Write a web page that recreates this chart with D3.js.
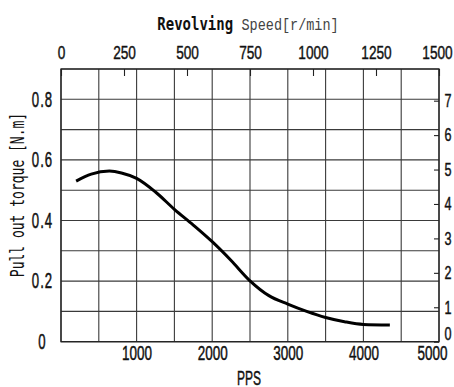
<!DOCTYPE html>
<html>
<head>
<meta charset="utf-8">
<script src="https://cdn.jsdelivr.net/npm/d3@7"></script>
<style>
  body { margin: 0; background: #fff; }
  svg { display: block; }
  .num { font-family: "Liberation Sans", Arial, sans-serif; fill: #111; stroke: #111; stroke-width: 0.35px; }
  .stretch { transform-box: fill-box; transform-origin: center; }
  .mono { font-family: "DejaVu Sans Mono", monospace; fill: #111; }
  .serif { font-family: "Liberation Mono", "Courier New", monospace; fill: #444; }
</style>
</head>
<body>
<div id="content"></div>
<script>
// pull out torque curve
var pps =    [200, 400, 640, 800, 1000, 1250, 1500, 1750, 2000, 2250, 2500, 2750, 3000, 3250, 3500, 3750, 4000, 4350];
var torque = [0.530, 0.553, 0.563, 0.557, 0.539, 0.494, 0.437, 0.385, 0.330, 0.268, 0.201, 0.152, 0.124, 0.100, 0.080, 0.066, 0.057, 0.055];

var bottomTicks = [1000, 2000, 3000, 4000, 5000];
var topTicks = [0, 250, 500, 750, 1000, 1250, 1500];
var leftTicks = [0.8, 0.6, 0.4, 0.2, 0];
var leftLabels = ["0.8", "0.6", "0.4", "0.2", "0"];
var rightTicks = [0, 1, 2, 3, 4, 5, 6, 7];
var xGrid = d3.range(0, 5001, 500);
var yGrid = d3.range(0, 10).map(function(i) { return i / 10; });

var width = 454, height = 387;
var margin = {top: 69, right: 15, bottom: 45.3, left: 61};

var x_scale = d3.scaleLinear().domain([0, 5000]).range([margin.left, width - margin.right]);
var y_scale = d3.scaleLinear().domain([0, 0.9]).range([height - margin.bottom, margin.top]);
var rpm_scale = d3.scaleLinear().domain([0, 1500]).range([margin.left, width - margin.right]);
// right hand scale, 7 sits one grid step below the top
var r_scale = d3.scaleLinear().domain([0, 7.92]).range([height - margin.bottom, margin.top]);

var svg = d3.select('#content').append("svg")
  .attr("width", width)
  .attr("height", height);

// grid
svg.append("g")
  .selectAll("line")
  .data(xGrid)
  .enter().append("line")
  .attr("x1", function(d) { return x_scale(d); })
  .attr("x2", function(d) { return x_scale(d); })
  .attr("y1", y_scale(0))
  .attr("y2", y_scale(0.9))
  .attr("stroke", "#3a3a3a")
  .attr("stroke-width", 1.1);

svg.append("g")
  .selectAll("line")
  .data(yGrid)
  .enter().append("line")
  .attr("x1", x_scale(0))
  .attr("x2", x_scale(5000))
  .attr("y1", function(d) { return y_scale(d); })
  .attr("y2", function(d) { return y_scale(d); })
  .attr("stroke", "#3a3a3a")
  .attr("stroke-width", 1.1);

svg.append("rect")
  .attr("x", x_scale(0))
  .attr("y", y_scale(0.9))
  .attr("width", x_scale(5000) - x_scale(0))
  .attr("height", y_scale(0) - y_scale(0.9))
  .attr("fill", "none")
  .attr("stroke", "#222")
  .attr("stroke-width", 1.3);

// top axis, ticks point into the plot
var topAxis = svg.append("g")
  .attr("transform", "translate(0," + margin.top + ")")
  .call(d3.axisTop(rpm_scale).tickValues(topTicks).tickSize(-7).tickPadding(11).tickFormat(d3.format("d")));

// right axis
var rightAxis = svg.append("g")
  .attr("transform", "translate(" + (width - margin.right) + ",0)")
  .call(d3.axisRight(r_scale).tickValues(rightTicks).tickSize(-5).tickPadding(5).tickFormat(d3.format("d")));

// bottom axis, labels only
var bottomAxis = svg.append("g")
  .attr("transform", "translate(0," + (height - margin.bottom) + ")")
  .call(d3.axisBottom(x_scale).tickValues(bottomTicks).tickSize(0).tickPadding(6).tickFormat(d3.format("d")));

[topAxis, rightAxis, bottomAxis].forEach(function(a) {
  a.select(".domain").remove();
  a.selectAll("line").attr("stroke", "#222").attr("stroke-width", 1.1);
  a.selectAll("text")
    .attr("class", "num stretch")
    .attr("font-size", 15);
});
topAxis.selectAll("text").style("transform", "scale(0.91,1.26)");
bottomAxis.selectAll("text").style("transform", "scale(0.9,1.4)");
rightAxis.selectAll("text")
  .attr("text-anchor", "start")
  .attr("font-size", 14)
  .style("transform", "scale(0.9,1.25)");

// end labels pulled in from the corner
bottomAxis.selectAll("text").filter(function(d) { return d == 5000; }).attr("x", -7);
topAxis.selectAll("text").filter(function(d) { return d == 1500; }).attr("x", -2);
rightAxis.selectAll("text").filter(function(d) { return d == 0; }).attr("y", -8);

// left labels sit centred, no ticks
svg.append("g")
  .selectAll("text")
  .data(leftTicks)
  .enter().append("text")
  .attr("class", "num stretch")
  .attr("x", 42.5)
  .attr("y", function(d) { return y_scale(d); })
  .attr("dy", "0.35em")
  .attr("text-anchor", "middle")
  .attr("font-size", 15)
  .attr("letter-spacing", 1.2)
  .style("transform", "scale(0.88,1.42)")
  .text(function(d, i) { return leftLabels[i]; });

// titles
var title = svg.append("text")
  .attr("class", "stretch")
  .attr("x", 248)
  .attr("y", 29)
  .attr("text-anchor", "middle")
  .style("transform", "scale(1,1.25)");
title.append("tspan").attr("class", "mono").attr("font-size", 14).attr("font-weight", "bold").text("Revolving ");
title.append("tspan").attr("class", "serif").attr("font-size", 13.5).text("Speed[r/min]");

svg.append("text")
  .attr("class", "num stretch")
  .attr("x", x_scale(2500) - 1)
  .attr("y", 383)
  .attr("text-anchor", "middle")
  .attr("font-size", 15)
  .style("transform", "scale(0.8,1.3)")
  .text("PPS");

svg.append("text")
  .attr("class", "mono")
  .attr("transform", "translate(24,195) rotate(-90) scale(1,1.45)")
  .attr("text-anchor", "middle")
  .attr("font-size", 13)
  .text("Pull out torque [N.m]");

// curve
var line = d3.line()
  .x(function(d) { return x_scale(d[0]); })
  .y(function(d) { return y_scale(d[1]); })
  .curve(d3.curveMonotoneX);

svg.append("path")
  .datum(d3.zip(pps, torque))
  .attr("d", line)
  .attr("fill", "none")
  .attr("stroke", "#000")
  .attr("stroke-width", 3)
  .attr("stroke-linecap", "butt");
</script>
</body>
</html>
